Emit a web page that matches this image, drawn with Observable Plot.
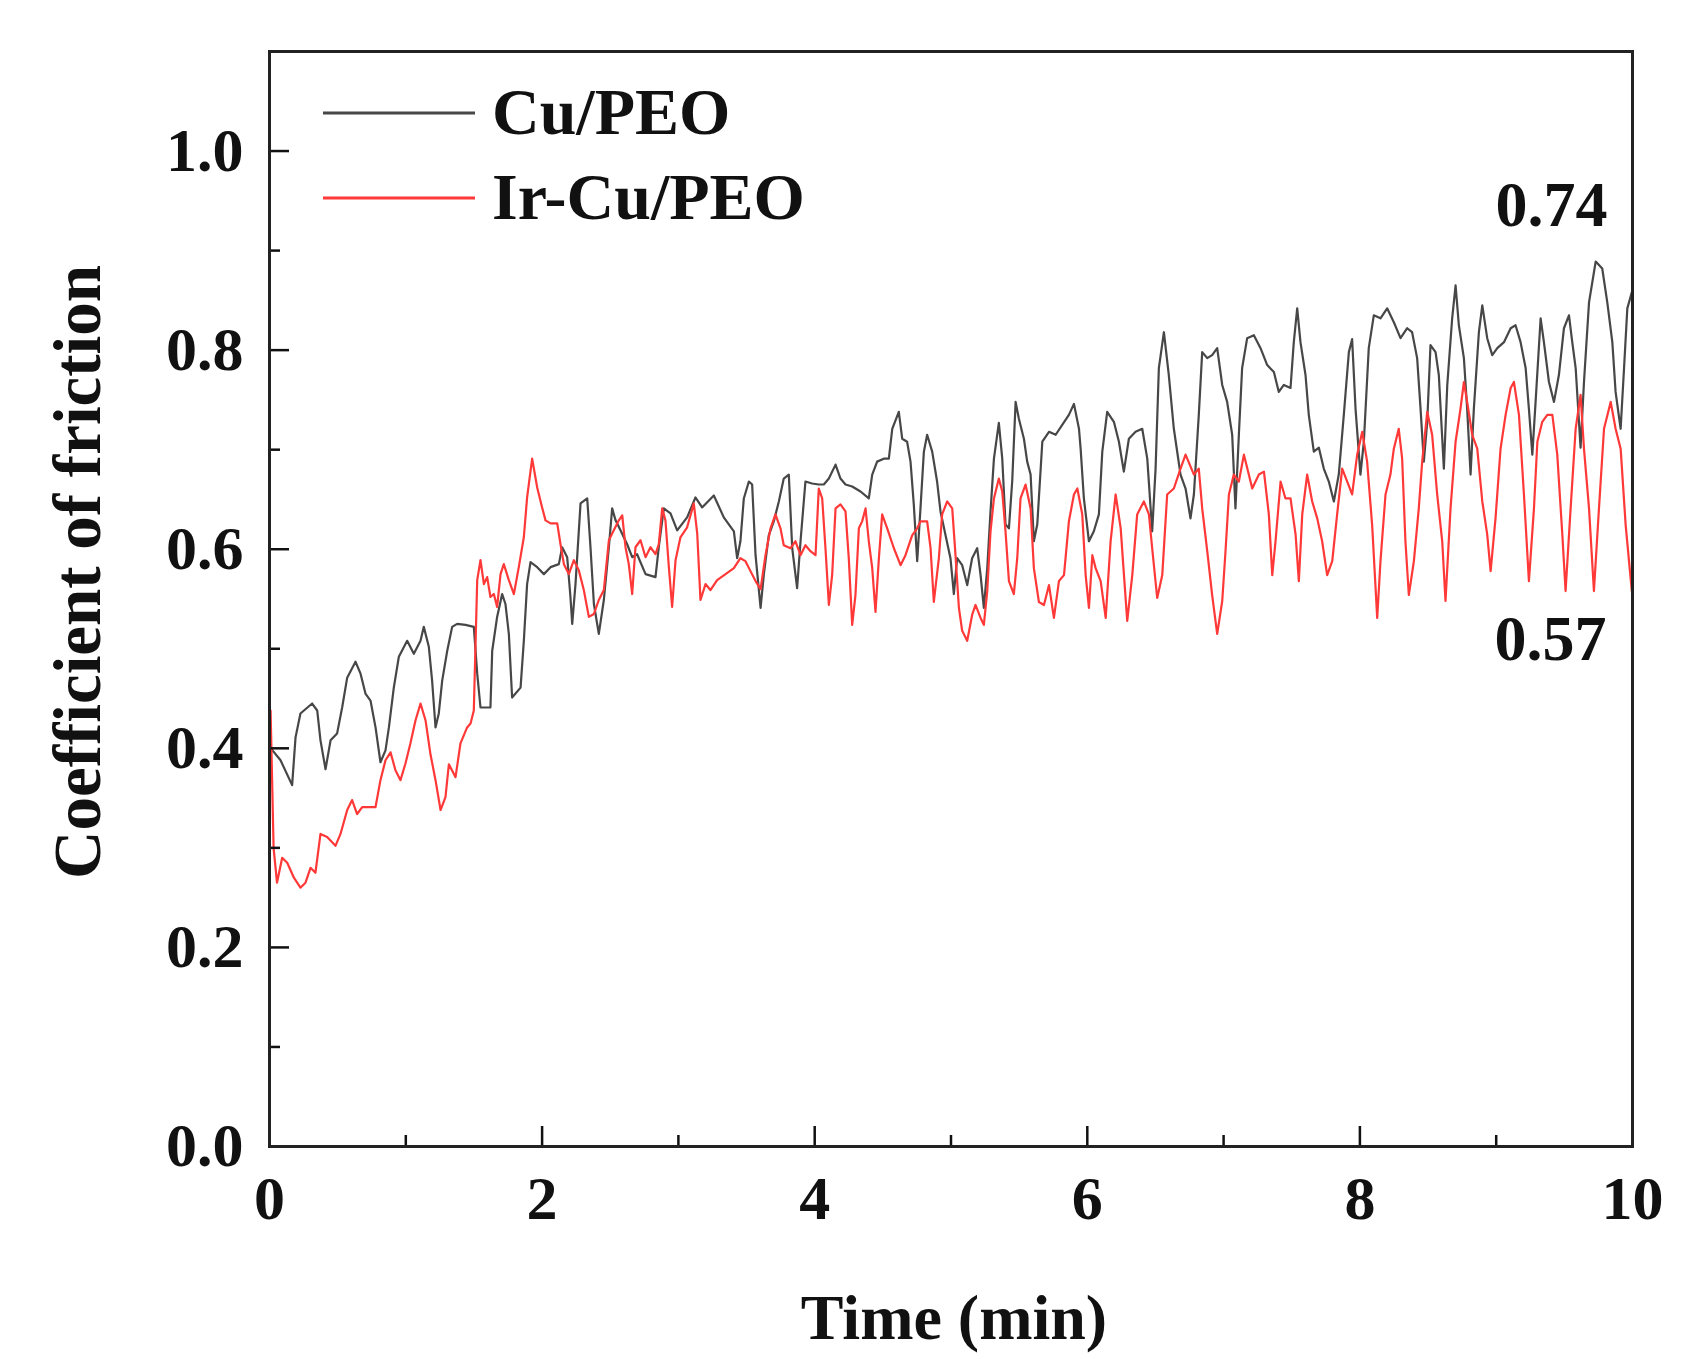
<!DOCTYPE html>
<html>
<head>
<meta charset="utf-8">
<script src="https://cdn.jsdelivr.net/npm/d3@7"></script>
<script src="https://cdn.jsdelivr.net/npm/@observablehq/plot@0.6"></script>
<style>
html, body { margin: 0; padding: 0; background: #fff; }
#wrap { position: relative; width: 1681px; height: 1359px; }
</style>
</head>
<body>
<div id="wrap"></div>
<script>
// ---- data ----
const cuTime = [0.010,0.081,0.166,0.191,0.227,0.313,0.350,0.374,0.411,0.448,0.496,0.533,0.570,0.631,0.668,0.704,0.741,0.778,0.814,0.851,0.876,0.912,0.949,1.010,1.059,1.108,1.132,1.169,1.193,1.218,1.242,1.267,1.304,1.340,1.377,1.438,1.499,1.524,1.548,1.621,1.634,1.670,1.707,1.731,1.756,1.780,1.842,1.866,1.890,1.915,1.964,2.013,2.062,2.123,2.147,2.184,2.208,2.221,2.245,2.282,2.331,2.355,2.380,2.416,2.453,2.490,2.514,2.539,2.575,2.624,2.661,2.697,2.759,2.832,2.856,2.893,2.942,2.991,3.064,3.125,3.174,3.260,3.333,3.407,3.431,3.455,3.480,3.517,3.541,3.566,3.603,3.627,3.663,3.700,3.737,3.773,3.810,3.835,3.871,3.896,3.932,3.981,4.030,4.067,4.104,4.153,4.189,4.226,4.275,4.336,4.397,4.422,4.458,4.507,4.544,4.569,4.617,4.642,4.678,4.703,4.727,4.752,4.776,4.801,4.825,4.862,4.898,4.923,4.960,4.996,5.021,5.045,5.082,5.119,5.155,5.192,5.217,5.241,5.266,5.290,5.315,5.351,5.376,5.400,5.425,5.449,5.474,5.498,5.535,5.559,5.584,5.608,5.633,5.670,5.719,5.768,5.816,5.865,5.902,5.939,5.951,5.975,6.012,6.048,6.085,6.110,6.146,6.195,6.232,6.268,6.305,6.354,6.403,6.440,6.476,6.501,6.525,6.562,6.598,6.635,6.684,6.721,6.757,6.782,6.818,6.843,6.880,6.916,6.953,6.990,7.026,7.063,7.087,7.112,7.136,7.173,7.222,7.271,7.320,7.369,7.405,7.442,7.491,7.515,7.540,7.564,7.601,7.625,7.662,7.699,7.735,7.772,7.809,7.845,7.882,7.919,7.943,7.968,8.004,8.029,8.065,8.102,8.151,8.200,8.249,8.298,8.347,8.383,8.420,8.445,8.469,8.494,8.518,8.555,8.579,8.616,8.641,8.677,8.702,8.726,8.763,8.787,8.812,8.836,8.873,8.898,8.934,8.971,9.008,9.057,9.106,9.142,9.179,9.216,9.240,9.265,9.289,9.326,9.350,9.387,9.424,9.460,9.497,9.534,9.558,9.583,9.619,9.644,9.681,9.730,9.778,9.815,9.852,9.876,9.913,9.938,9.962,9.995];
const cuCof = [0.400,0.388,0.363,0.411,0.435,0.445,0.438,0.408,0.379,0.408,0.415,0.441,0.471,0.487,0.475,0.455,0.448,0.421,0.386,0.398,0.421,0.461,0.492,0.508,0.495,0.508,0.522,0.502,0.468,0.421,0.435,0.468,0.498,0.522,0.525,0.524,0.522,0.475,0.441,0.441,0.498,0.532,0.555,0.545,0.515,0.451,0.461,0.508,0.565,0.587,0.582,0.575,0.582,0.585,0.602,0.592,0.552,0.525,0.565,0.646,0.651,0.602,0.545,0.515,0.549,0.602,0.641,0.629,0.619,0.605,0.592,0.595,0.575,0.572,0.602,0.641,0.636,0.619,0.632,0.652,0.642,0.654,0.632,0.618,0.591,0.608,0.651,0.668,0.665,0.594,0.541,0.575,0.614,0.628,0.648,0.671,0.675,0.601,0.561,0.608,0.668,0.666,0.665,0.665,0.671,0.685,0.671,0.665,0.663,0.658,0.651,0.675,0.688,0.691,0.691,0.721,0.738,0.711,0.708,0.688,0.645,0.588,0.641,0.698,0.715,0.698,0.668,0.638,0.614,0.591,0.555,0.591,0.584,0.564,0.591,0.601,0.574,0.541,0.581,0.638,0.691,0.727,0.691,0.625,0.621,0.668,0.748,0.731,0.711,0.688,0.675,0.608,0.625,0.708,0.718,0.715,0.725,0.735,0.746,0.721,0.701,0.651,0.608,0.618,0.635,0.698,0.738,0.728,0.708,0.678,0.711,0.718,0.721,0.691,0.618,0.681,0.782,0.818,0.775,0.721,0.675,0.661,0.631,0.655,0.735,0.798,0.792,0.795,0.802,0.765,0.748,0.715,0.641,0.715,0.782,0.812,0.815,0.802,0.785,0.778,0.758,0.765,0.762,0.808,0.842,0.808,0.775,0.735,0.698,0.702,0.681,0.668,0.648,0.675,0.735,0.798,0.811,0.741,0.675,0.708,0.802,0.835,0.832,0.842,0.828,0.812,0.822,0.818,0.792,0.741,0.688,0.728,0.805,0.798,0.775,0.681,0.765,0.832,0.865,0.825,0.792,0.741,0.675,0.741,0.818,0.845,0.812,0.795,0.802,0.808,0.822,0.825,0.808,0.782,0.741,0.695,0.748,0.832,0.808,0.768,0.748,0.775,0.822,0.835,0.808,0.782,0.702,0.768,0.848,0.889,0.882,0.848,0.808,0.758,0.721,0.782,0.842,0.858];

const irTime = [0.008,0.030,0.055,0.093,0.130,0.179,0.227,0.264,0.301,0.337,0.374,0.423,0.484,0.521,0.570,0.606,0.643,0.680,0.778,0.814,0.851,0.888,0.924,0.961,0.998,1.034,1.071,1.108,1.145,1.181,1.218,1.255,1.291,1.316,1.365,1.401,1.450,1.475,1.499,1.524,1.548,1.573,1.597,1.621,1.646,1.670,1.695,1.719,1.756,1.793,1.829,1.866,1.890,1.927,1.964,2.000,2.025,2.062,2.111,2.135,2.160,2.196,2.233,2.269,2.306,2.343,2.380,2.416,2.453,2.490,2.526,2.563,2.588,2.612,2.636,2.661,2.685,2.722,2.759,2.795,2.832,2.856,2.881,2.905,2.930,2.954,2.979,3.015,3.064,3.113,3.138,3.162,3.199,3.235,3.284,3.346,3.407,3.455,3.492,3.529,3.566,3.603,3.639,3.676,3.712,3.749,3.773,3.822,3.859,3.896,3.932,3.969,4.006,4.030,4.055,4.079,4.104,4.128,4.153,4.189,4.226,4.250,4.275,4.299,4.324,4.348,4.373,4.397,4.422,4.446,4.471,4.495,4.532,4.581,4.630,4.666,4.715,4.752,4.776,4.825,4.850,4.874,4.911,4.935,4.972,5.009,5.033,5.058,5.082,5.119,5.155,5.180,5.217,5.241,5.266,5.290,5.315,5.351,5.376,5.400,5.425,5.461,5.486,5.510,5.547,5.584,5.608,5.645,5.682,5.719,5.755,5.792,5.829,5.865,5.902,5.927,5.963,5.988,6.012,6.037,6.061,6.098,6.135,6.171,6.208,6.245,6.269,6.293,6.330,6.366,6.415,6.452,6.476,6.513,6.550,6.586,6.635,6.684,6.721,6.782,6.818,6.843,6.880,6.916,6.953,6.990,7.014,7.039,7.075,7.112,7.149,7.185,7.210,7.259,7.296,7.332,7.357,7.381,7.418,7.454,7.491,7.528,7.552,7.577,7.613,7.650,7.687,7.723,7.760,7.797,7.833,7.870,7.907,7.943,7.980,8.017,8.053,8.090,8.127,8.151,8.188,8.224,8.249,8.285,8.310,8.334,8.359,8.396,8.432,8.457,8.494,8.530,8.567,8.604,8.628,8.665,8.702,8.738,8.763,8.787,8.824,8.861,8.898,8.934,8.959,8.995,9.032,9.069,9.106,9.130,9.167,9.204,9.240,9.277,9.302,9.338,9.375,9.412,9.448,9.485,9.509,9.546,9.583,9.619,9.644,9.681,9.717,9.754,9.791,9.840,9.876,9.913,9.950,9.995];
const irCof = [0.438,0.300,0.265,0.290,0.285,0.270,0.260,0.265,0.280,0.275,0.314,0.311,0.302,0.314,0.338,0.348,0.334,0.341,0.341,0.368,0.388,0.396,0.378,0.368,0.385,0.405,0.428,0.445,0.428,0.394,0.368,0.338,0.351,0.384,0.371,0.405,0.421,0.425,0.438,0.569,0.589,0.565,0.572,0.552,0.555,0.542,0.575,0.585,0.569,0.555,0.582,0.612,0.652,0.691,0.662,0.642,0.629,0.626,0.626,0.605,0.585,0.575,0.589,0.579,0.559,0.532,0.535,0.549,0.559,0.609,0.619,0.629,0.634,0.602,0.585,0.555,0.602,0.609,0.592,0.602,0.595,0.605,0.641,0.629,0.582,0.542,0.589,0.612,0.622,0.646,0.616,0.549,0.565,0.559,0.569,0.575,0.581,0.591,0.588,0.578,0.568,0.560,0.594,0.621,0.635,0.621,0.604,0.601,0.608,0.594,0.604,0.598,0.594,0.661,0.651,0.601,0.544,0.574,0.641,0.645,0.638,0.591,0.524,0.554,0.621,0.628,0.641,0.608,0.581,0.537,0.591,0.635,0.621,0.601,0.584,0.594,0.614,0.621,0.628,0.628,0.601,0.547,0.591,0.635,0.648,0.641,0.594,0.541,0.518,0.508,0.534,0.544,0.531,0.524,0.558,0.618,0.651,0.671,0.658,0.618,0.568,0.555,0.591,0.651,0.665,0.641,0.581,0.547,0.544,0.564,0.531,0.568,0.574,0.628,0.655,0.661,0.635,0.574,0.541,0.594,0.581,0.568,0.531,0.608,0.655,0.621,0.574,0.528,0.574,0.635,0.648,0.635,0.601,0.551,0.574,0.655,0.661,0.681,0.695,0.675,0.681,0.641,0.598,0.554,0.515,0.548,0.598,0.655,0.675,0.668,0.695,0.675,0.661,0.675,0.678,0.635,0.574,0.608,0.668,0.651,0.651,0.615,0.568,0.635,0.675,0.648,0.631,0.608,0.574,0.588,0.635,0.681,0.668,0.655,0.695,0.718,0.688,0.624,0.531,0.588,0.655,0.675,0.701,0.721,0.691,0.608,0.554,0.588,0.641,0.688,0.738,0.715,0.655,0.608,0.548,0.641,0.708,0.741,0.768,0.748,0.715,0.701,0.648,0.615,0.578,0.631,0.701,0.735,0.762,0.768,0.735,0.654,0.568,0.641,0.708,0.728,0.735,0.735,0.695,0.615,0.558,0.641,0.721,0.755,0.701,0.641,0.558,0.641,0.721,0.748,0.721,0.701,0.624,0.558];

const seriesNames = ["Cu/PEO", "Ir-Cu/PEO"];
const seriesColors = ["#474747", "#ff3838"];
const xMajorTicks = [0, 2, 4, 6, 8, 10];
const xMinorTicks = [1, 3, 5, 7, 9];
const yMajorTicks = [0, 0.2, 0.4, 0.6, 0.8, 1.0];
const yMinorTicks = [0.1, 0.3, 0.5, 0.7, 0.9];
const xTitle = "Time (min)";
const yTitle = "Coefficient of friction";
const endLabels = ["0.74", "0.57"];

// ---- build ----
const cu = cuTime.map((t, i) => ({t, v: cuCof[i]}));
const ir = irTime.map((t, i) => ({t, v: irCof[i]}));
const FONT = "'Liberation Serif', 'Times New Roman', Times, serif";
const INK = "#111";

const chart = Plot.plot({
  width: 1681,
  height: 1359,
  marginLeft: 269,
  marginRight: 49,
  marginTop: 51,
  marginBottom: 213,
  style: {fontFamily: FONT, fontWeight: "bold", fontSize: "62px", background: "#fff", color: INK},
  x: {domain: [0, 10]},
  y: {domain: [0, 1.1]},
  marks: [
    Plot.line(cu, {x: "t", y: "v", stroke: seriesColors[0], strokeWidth: 2.2}),
    Plot.line(ir, {x: "t", y: "v", stroke: seriesColors[1], strokeWidth: 2.2}),
    Plot.axisX({ticks: xMajorTicks, tickSize: -20, tickPadding: 48, strokeWidth: 2.5, tickFormat: d3.format("d"), fontSize: 62, label: null}),
    Plot.axisX({ticks: xMinorTicks, tickSize: -11, strokeWidth: 2.5, tickFormat: () => "", label: null}),
    Plot.axisY({ticks: yMajorTicks, tickSize: -20, tickPadding: 46, strokeWidth: 2.5, tickFormat: d3.format(".1f"), fontSize: 62, label: null}),
    Plot.axisY({ticks: yMinorTicks, tickSize: -11, strokeWidth: 2.5, tickFormat: () => "", label: null}),
    Plot.frame({stroke: "#222", strokeWidth: 3}),
    Plot.text([xTitle], {text: d => d, frameAnchor: "bottom", textAnchor: "middle", lineAnchor: "bottom", dx: 3, dy: 192, fontSize: 64}),
    Plot.text([yTitle], {text: d => d, frameAnchor: "left", textAnchor: "middle", lineAnchor: "middle", rotate: -90, dx: -191, dy: -27, fontSize: 67}),
    Plot.text([endLabels[0]], {text: d => d, frameAnchor: "top-right", textAnchor: "end", lineAnchor: "bottom", dx: -25, dy: 174, fontSize: 64}),
    Plot.text([endLabels[1]], {text: d => d, frameAnchor: "top-right", textAnchor: "end", lineAnchor: "bottom", dx: -26, dy: 608, fontSize: 64})
  ]
});

const wrap = document.getElementById("wrap");
wrap.appendChild(chart);

// legend overlay (inside the plot area, top-left)
const legend = d3.select(wrap).append("svg")
  .attr("width", 1681).attr("height", 1359)
  .style("position", "absolute").style("left", "0px").style("top", "0px")
  .style("pointer-events", "none");
const item = legend.selectAll("g").data(seriesNames).join("g")
  .attr("transform", (d, i) => `translate(0,${113 + i * 85})`);
item.append("line")
  .attr("x1", 323).attr("x2", 475).attr("y1", 0).attr("y2", 0)
  .attr("stroke", (d, i) => seriesColors[i]).attr("stroke-width", 3);
item.append("text")
  .attr("x", 492).attr("y", 21)
  .attr("font-family", FONT).attr("font-weight", "bold").attr("font-size", 66)
  .attr("fill", INK)
  .text(d => d);
</script>
</body>
</html>
